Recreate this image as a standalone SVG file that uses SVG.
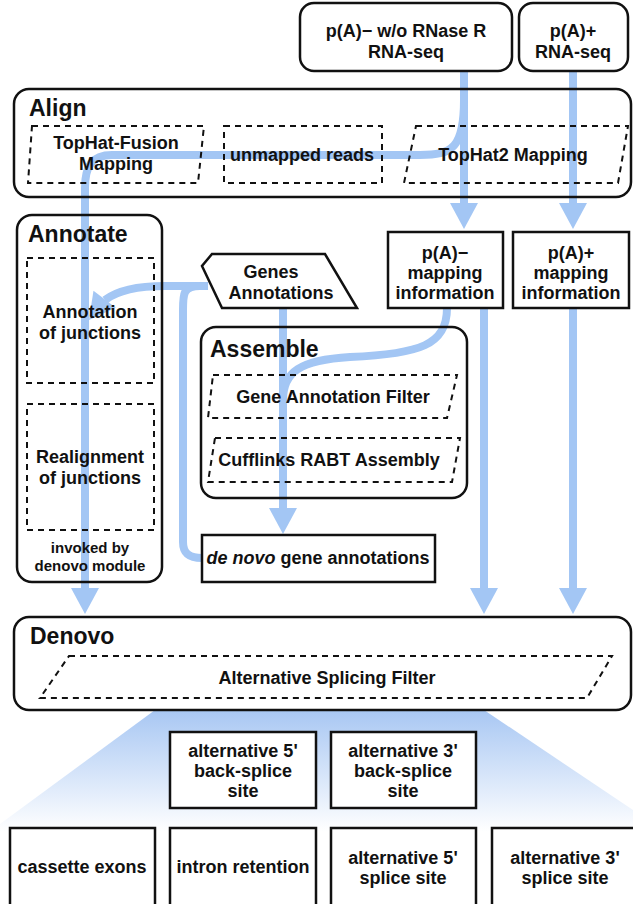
<svg xmlns="http://www.w3.org/2000/svg" xmlns:xlink="http://www.w3.org/1999/xlink" width="633" height="904" viewBox="0 0 633 904">
<defs>
<style>
.box{fill:none;stroke:#111;stroke-width:2.5}
.wbox{fill:#fff;stroke:#111;stroke-width:2.5}
.dash{fill:none;stroke:#111;stroke-width:2;stroke-dasharray:6 5}
.t{font-family:"Liberation Sans",Arial,sans-serif;font-weight:bold;font-size:18px;fill:#111;text-anchor:middle}
.s{font-size:15px}
.h{font-family:"Liberation Sans",Arial,sans-serif;font-weight:bold;font-size:23px;fill:#111}
.c{fill:none;stroke:#a3c6f4;stroke-width:8}
.ah{fill:#a3c6f4}
</style>
<path id="ah" class="ah" d="M-14,-26 L14,-26 L0,0 Z"/>
<linearGradient id="fan" x1="0" y1="710" x2="0" y2="832" gradientUnits="userSpaceOnUse">
<stop offset="0" stop-color="#a8c7f3"/>
<stop offset="1" stop-color="#ffffff"/>
</linearGradient>
</defs>
<rect width="633" height="904" fill="#fff"/>
<polygon points="155,710 484,710 633,810 633,832 0,832 0,824" fill="url(#fan)"/>

<g id="connectors">
<path class="c" d="M464,72 V206"/>
<use xlink:href="#ah" transform="translate(464,229)"/>
<path class="c" d="M573,72 V206"/>
<use xlink:href="#ah" transform="translate(573,229)"/>
<path class="c" d="M464,100 C464,148 452,155 420,155 H112 C92,155 85,166 85,188 V592"/>
<use xlink:href="#ah" transform="translate(85,614)"/>
<path class="c" d="M484,308 V592"/>
<use xlink:href="#ah" transform="translate(484,614)"/>
<path class="c" d="M573,308 V592"/>
<use xlink:href="#ah" transform="translate(573,614)"/>
<path class="c" d="M283,308 V512"/>
<use xlink:href="#ah" transform="translate(283,534)"/>
<path class="c" d="M447,308 C447,345 420,354 350,357 C300,360 283,372 283,400"/>
<path class="c" d="M208,286 H165 C140,286 118,290 105,300"/>
<use xlink:href="#ah" transform="translate(89,320) rotate(37)"/>
<path class="c" d="M200,286 C183,286 183,294 183,310 V542 C183,554 190,558 202,558"/>
</g>

<g id="src-pa-minus">
<rect class="wbox" x="300" y="3" width="212" height="68" rx="14"/>
<text class="t" x="406" y="37">p(A)− w/o RNase R</text>
<text class="t" x="406" y="58">RNA-seq</text>
</g>
<g id="src-pa-plus">
<rect class="wbox" x="519" y="3" width="109" height="68" rx="14"/>
<text class="t" x="573" y="37">p(A)+</text>
<text class="t" x="573" y="58">RNA-seq</text>
</g>

<g id="align">
<rect class="box" x="14" y="89" width="617" height="108" rx="15"/>
<text class="h" x="29" y="116">Align</text>
<polygon class="dash" points="32,126 204,126 198,183 28,183"/>
<text class="t" x="116" y="149">TopHat-Fusion</text>
<text class="t" x="116" y="170">Mapping</text>
<rect class="dash" x="224" y="126" width="158" height="57"/>
<text class="t" x="302" y="161">unmapped reads</text>
<polygon class="dash" points="416,126 628,126 618,183 404,183"/>
<text class="t" x="513" y="161">TopHat2 Mapping</text>
</g>

<g id="annotate">
<rect class="box" x="17" y="215" width="145" height="367" rx="15"/>
<text class="h" x="28" y="242">Annotate</text>
<rect class="dash" x="27" y="258" width="127" height="125"/>
<text class="t" x="90" y="318">Annotation</text>
<text class="t" x="90" y="339">of junctions</text>
<rect class="dash" x="27" y="404" width="127" height="126"/>
<text class="t" x="90" y="463">Realignment</text>
<text class="t" x="90" y="484">of junctions</text>
<text class="t s" x="90" y="553">invoked by</text>
<text class="t s" x="90" y="571">denovo module</text>
</g>

<g id="genes-annotations">
<polygon class="wbox" points="212,254 325,254 357,308 222,308 202,266"/>
<text class="t" x="271" y="278">Genes</text>
<text class="t" x="281" y="299">Annotations</text>
</g>

<g id="pa-minus-mapping">
<rect class="wbox" x="388" y="232" width="115" height="76"/>
<text class="t" x="445" y="259">p(A)−</text>
<text class="t" x="445" y="279">mapping</text>
<text class="t" x="445" y="299">information</text>
</g>
<g id="pa-plus-mapping">
<rect class="wbox" x="513" y="232" width="116" height="76"/>
<text class="t" x="571" y="259">p(A)+</text>
<text class="t" x="571" y="279">mapping</text>
<text class="t" x="571" y="299">information</text>
</g>

<g id="assemble">
<rect class="box" x="201" y="327" width="266" height="171" rx="15"/>
<text class="h" x="210" y="357">Assemble</text>
<polygon class="dash" points="213,375 457,375 447,418 208,418"/>
<text class="t" x="333" y="403">Gene Annotation Filter</text>
<polygon class="dash" points="215,438 460,438 452,482 208,482"/>
<text class="t" x="329" y="466">Cufflinks RABT Assembly</text>
</g>

<g id="denovo-gene-annotations">
<rect class="wbox" x="202" y="535" width="233" height="47"/>
<text class="t" x="318" y="564"><tspan font-style="italic">de novo</tspan> gene annotations</text>
</g>

<g id="denovo">
<rect class="box" x="14" y="617" width="617" height="93" rx="15"/>
<text class="h" x="30" y="644">Denovo</text>
<polygon class="dash" points="69,656 612,656 587,698 40,698"/>
<text class="t" x="327" y="684">Alternative Splicing Filter</text>
</g>

<g id="alt5-back">
<rect class="wbox" x="170" y="732" width="146" height="76"/>
<text class="t" x="243" y="757">alternative 5'</text>
<text class="t" x="243" y="777">back-splice</text>
<text class="t" x="243" y="797">site</text>
</g>
<g id="alt3-back">
<rect class="wbox" x="331" y="732" width="145" height="76"/>
<text class="t" x="403" y="757">alternative 3'</text>
<text class="t" x="403" y="777">back-splice</text>
<text class="t" x="403" y="797">site</text>
</g>
<g id="cassette">
<rect class="wbox" x="10" y="828" width="145" height="80"/>
<text class="t" x="82" y="873">cassette exons</text>
</g>
<g id="intron">
<rect class="wbox" x="170" y="828" width="146" height="80"/>
<text class="t" x="243" y="873">intron retention</text>
</g>
<g id="alt5-splice">
<rect class="wbox" x="331" y="828" width="145" height="80"/>
<text class="t" x="403" y="864">alternative 5'</text>
<text class="t" x="403" y="884">splice site</text>
</g>
<g id="alt3-splice">
<rect class="wbox" x="492" y="828" width="150" height="80"/>
<text class="t" x="565" y="864">alternative 3'</text>
<text class="t" x="565" y="884">splice site</text>
</g>
</svg>
